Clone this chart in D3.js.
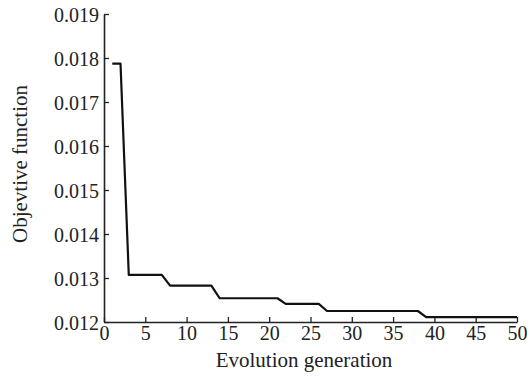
<!DOCTYPE html>
<html>
<head>
<meta charset="utf-8">
<script src="https://cdn.jsdelivr.net/npm/d3@7"></script>
<style>
  body { margin: 0; background: #fff; }
  svg text { font-family: "Liberation Serif", "Times New Roman", serif; fill: #222; }
</style>
</head>
<body>
<div id="graph"></div>
<script>
// best objective value per generation
const generations = [1, 2, 3, 7, 8, 13, 14, 21, 22, 26, 27, 38, 39, 50];
const objective = [0.01787, 0.01787, 0.01307, 0.01307, 0.012825, 0.012825, 0.01254, 0.01254,
                   0.01241, 0.01241, 0.01225, 0.01225, 0.01211, 0.01211];
const xTicks = [0, 5, 10, 15, 20, 25, 30, 35, 40, 45, 50];
const yTicks = [0.012, 0.013, 0.014, 0.015, 0.016, 0.017, 0.018, 0.019];

const svgWidth = 532,
      svgHeight = 378;
const margin = {left: 104, right: 15, top: 14, bottom: 56};

const svg = d3.select('#graph')
              .append('svg')
              .attr('width', svgWidth)
              .attr('height', svgHeight);

const xScale = d3.scaleLinear()
                 .domain([0, 50])
                 .range([margin.left, svgWidth - margin.right]);

const yScale = d3.scaleLinear()
                 .domain([0.012, 0.019])
                 .range([svgHeight - margin.bottom, margin.top]);

// x-axis, ticks pointing inward
const xAxis = d3.axisBottom(xScale)
                .tickValues(xTicks)
                .tickSizeInner(-5)
                .tickSizeOuter(0)
                .tickPadding(4)
                .tickFormat(d3.format('d'));

const gx = svg.append('g')
              .attr('transform', 'translate(0,' + yScale(0.012) + ')')
              .call(xAxis);

// y-axis
const yAxis = d3.axisLeft(yScale)
                .tickValues(yTicks)
                .tickSizeInner(-5)
                .tickSizeOuter(0)
                .tickPadding(5)
                .tickFormat(d3.format('.3f'));

const gy = svg.append('g')
              .attr('transform', 'translate(' + xScale(0) + ',0)')
              .call(yAxis);

[gx, gy].forEach(g => {
    g.attr('font-family', 'Liberation Serif').attr('font-size', 20);
    g.select('.domain').attr('stroke', '#222').attr('stroke-width', 1.6);
    g.selectAll('.tick line').attr('stroke', '#222').attr('stroke-width', 1.3);
    g.selectAll('.tick text')
     .attr('font-family', 'Liberation Serif')
     .attr('fill', '#222');
});
gy.selectAll('.tick text').attr('dy', '0.35em');

// step curve
const line = d3.line()
               .x((d, i) => xScale(generations[i]))
               .y(d => yScale(d));

svg.append('path')
   .datum(objective)
   .attr('d', line)
   .attr('fill', 'none')
   .attr('stroke', '#111')
   .attr('stroke-width', 2.2)
   .attr('stroke-linejoin', 'round');

// axis titles
svg.append('text')
   .text('Evolution generation')
   .attr('x', 304)
   .attr('y', 367)
   .attr('text-anchor', 'middle')
   .attr('font-size', 21);

svg.append('text')
   .text('Objevtive function')
   .attr('transform', 'translate(27,' + 164 + ') rotate(-90)')
   .attr('text-anchor', 'middle')
   .attr('font-size', 21);
</script>
</body>
</html>
